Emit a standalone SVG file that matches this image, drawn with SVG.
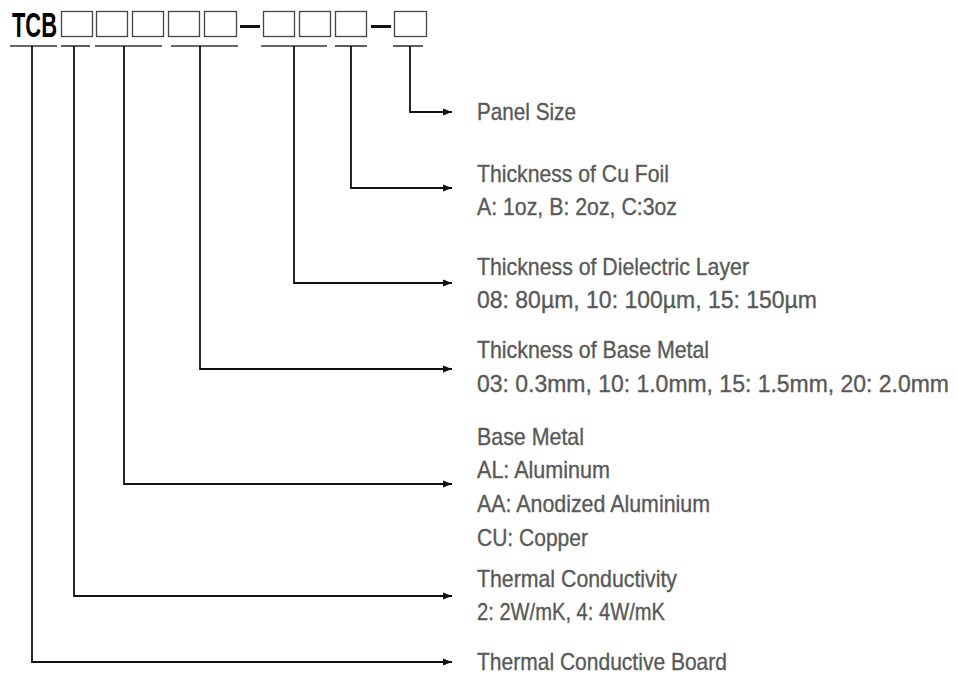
<svg xmlns="http://www.w3.org/2000/svg" width="958" height="675" viewBox="0 0 958 675">
<style>
.lbl{font-family:"Liberation Sans",Arial,sans-serif;font-size:24px;fill:#595959;stroke:#595959;stroke-width:0.35}
.box{fill:none;stroke:#444;stroke-width:1.3}
.ul{stroke:#333;stroke-width:1.6}
.dash{stroke:#111;stroke-width:3}
.conn{fill:none;stroke:#111;stroke-width:1.8}
</style>
<defs>
<marker id="arr" markerUnits="userSpaceOnUse" markerWidth="10" markerHeight="8" refX="9" refY="4" orient="auto">
<path d="M0,0.5 L9,4 L0,7.5 z" fill="#111"/>
</marker>
</defs>
<rect width="958" height="675" fill="#fff"/>
<g id="code">
<text x="12" y="37" font-family="Liberation Sans,Arial,sans-serif" font-weight="bold" font-size="35" fill="#000" textLength="45" lengthAdjust="spacingAndGlyphs">TCB</text>
<rect class="box" x="61.5" y="11.5" width="31" height="25"/>
<rect class="box" x="96.5" y="11.5" width="31" height="25"/>
<rect class="box" x="132.5" y="11.5" width="31" height="25"/>
<rect class="box" x="168.5" y="11.5" width="31" height="25"/>
<rect class="box" x="204.5" y="11.5" width="32" height="25"/>
<line class="dash" x1="240" y1="26.5" x2="260" y2="26.5"/>
<rect class="box" x="263.5" y="11.5" width="31" height="25"/>
<rect class="box" x="299.5" y="11.5" width="31" height="25"/>
<rect class="box" x="335.5" y="11.5" width="31" height="25"/>
<line class="dash" x1="371" y1="26.5" x2="391" y2="26.5"/>
<rect class="box" x="394.5" y="11.5" width="32" height="25"/>
<line class="ul" x1="10" y1="46" x2="57" y2="46"/>
<line class="ul" x1="61" y1="46" x2="90" y2="46"/>
<line class="ul" x1="95" y1="46" x2="162" y2="46"/>
<line class="ul" x1="171" y1="46" x2="238" y2="46"/>
<line class="ul" x1="261" y1="46" x2="327" y2="46"/>
<line class="ul" x1="335" y1="46" x2="367" y2="46"/>
<line class="ul" x1="393" y1="46" x2="423" y2="46"/>
</g>
<g id="connectors">
<path class="conn" d="M410,46 V112 H452" marker-end="url(#arr)"/>
<path class="conn" d="M351,46 V188 H452" marker-end="url(#arr)"/>
<path class="conn" d="M294,46 V283 H452" marker-end="url(#arr)"/>
<path class="conn" d="M200,46 V369 H452" marker-end="url(#arr)"/>
<path class="conn" d="M124,46 V484 H452" marker-end="url(#arr)"/>
<path class="conn" d="M74,46 V596 H452" marker-end="url(#arr)"/>
<path class="conn" d="M32,46 V662 H452" marker-end="url(#arr)"/>
</g>
<g id="panel-size">
<text class="lbl" x="477" y="120" textLength="99" lengthAdjust="spacingAndGlyphs">Panel Size</text>
</g>
<g id="cu-foil">
<text class="lbl" x="477" y="182" textLength="192" lengthAdjust="spacingAndGlyphs">Thickness of Cu Foil</text>
<text class="lbl" x="477" y="215" textLength="200" lengthAdjust="spacingAndGlyphs">A: 1oz, B: 2oz, C:3oz</text>
</g>
<g id="dielectric">
<text class="lbl" x="477" y="275" textLength="272" lengthAdjust="spacingAndGlyphs">Thickness of Dielectric Layer</text>
<text class="lbl" x="477" y="308" textLength="340" lengthAdjust="spacingAndGlyphs">08: 80µm, 10: 100µm, 15: 150µm</text>
</g>
<g id="base-thickness">
<text class="lbl" x="477" y="358" textLength="232" lengthAdjust="spacingAndGlyphs">Thickness of Base Metal</text>
<text class="lbl" x="477" y="392" style="font-size:23px" textLength="472" lengthAdjust="spacingAndGlyphs">03: 0.3mm, 10: 1.0mm, 15: 1.5mm, 20: 2.0mm</text>
</g>
<g id="base-metal">
<text class="lbl" x="477" y="445" textLength="107" lengthAdjust="spacingAndGlyphs">Base Metal</text>
<text class="lbl" x="477" y="478" textLength="133" lengthAdjust="spacingAndGlyphs">AL: Aluminum</text>
<text class="lbl" x="477" y="512" textLength="233" lengthAdjust="spacingAndGlyphs">AA: Anodized Aluminium</text>
<text class="lbl" x="477" y="546" textLength="111" lengthAdjust="spacingAndGlyphs">CU: Copper</text>
</g>
<g id="thermal-conductivity">
<text class="lbl" x="477" y="587" textLength="200" lengthAdjust="spacingAndGlyphs">Thermal Conductivity</text>
<text class="lbl" x="477" y="620" textLength="188" lengthAdjust="spacingAndGlyphs">2: 2W/mK, 4: 4W/mK</text>
</g>
<g id="board">
<text class="lbl" x="477" y="670" textLength="250" lengthAdjust="spacingAndGlyphs">Thermal Conductive Board</text>
</g>
</svg>
